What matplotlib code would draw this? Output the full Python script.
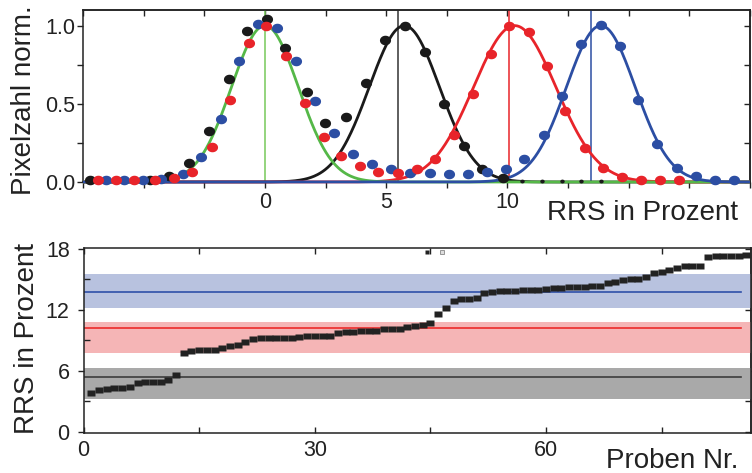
import numpy as np
import matplotlib
matplotlib.use("Agg")
import matplotlib.pyplot as plt
from matplotlib.path import Path

plt.rcParams['font.family'] = ['Liberation Sans', 'DejaVu Sans']

# ---------------- upper panel: normalised pixel counts ----------------
black_x = [-7.2, -4.72, -3.94, -3.12, -2.30, -1.49, -0.74, 0.08, 0.83, 1.72,
           2.47, 3.35, 4.17, 4.96, 5.78, 6.60, 7.38, 8.19, 8.95, 9.82]
black_y = [0.015, 0.015, 0.041, 0.124, 0.327, 0.658, 0.964, 1.043, 0.857, 0.573,
           0.376, 0.415, 0.632, 0.91, 1.0, 0.831, 0.5, 0.233, 0.084, 0.027]
black_tail_x = [10.6, 11.42, 12.24, 13.03, 13.84]
black_tail_y = [0.008, 0.008, 0.008, 0.008, 0.008]

red_x = [-6.9, -6.13, -5.38, -4.55, -3.76, -2.99, -2.20, -1.45, -0.67, 0.05,
         0.87, 1.65, 2.43, 3.12, 3.94, 4.65, 5.50, 6.26, 7.02, 7.78,
         8.58, 9.33, 10.08, 10.89, 11.64, 12.39, 13.18, 13.95, 14.74, 15.5,
         16.28, 17.07]
red_y = [0.012, 0.012, 0.012, 0.012, 0.025, 0.066, 0.222, 0.526, 0.889, 1.0,
         0.803, 0.504, 0.29, 0.165, 0.104, 0.066, 0.058, 0.086, 0.145, 0.301,
         0.564, 0.82, 1.0, 0.957, 0.744, 0.451, 0.216, 0.088, 0.032, 0.013,
         0.01, 0.01]

blue_x = [-6.54, -5.79, -5.04, -4.29, -3.39, -2.62, -1.83, -1.08, -0.29, 0.49,
          1.27, 2.06, 2.84, 3.63, 4.40, 5.19, 6.00, 6.80, 7.59, 8.36,
          9.15, 9.93, 10.69, 11.51, 12.26, 13.05, 13.84, 14.64, 15.39, 16.18,
          16.97, 17.76, 18.56, 19.36]
blue_y = [0.015, 0.015, 0.015, 0.02, 0.051, 0.162, 0.402, 0.771, 1.01, 0.985,
          0.776, 0.519, 0.316, 0.179, 0.117, 0.081, 0.058, 0.057, 0.053, 0.053,
          0.066, 0.086, 0.145, 0.301, 0.547, 0.885, 1.006, 0.867, 0.526, 0.244,
          0.088, 0.036, 0.015, 0.015]

# Gaussian fits (drawing order: black, red, green, blue)
fit_centers = [5.75, 10.3, 0.0, 13.85]
fit_sigmas = [1.45, 1.70, 1.38, 1.42]
fit_colors = ['#1a1a1a', '#e8242a', '#55b848', '#2c4ea3']

# vertical markers at the mean RRS of each group
mean_lines = [0.0, 5.48, 10.07, 13.46]
mean_line_colors = ['#77c95a', '#333333', '#e8242a', '#2c4ea3']

top_xticks = [-7.5, -5, -2.5, 0, 2.5, 5, 7.5, 10, 12.5, 15, 17.5, 20]
top_xticklabels = ['', '', '', '0', '', '5', '', '10', '', '', '', '']
top_yticks = [0, 0.25, 0.5, 0.75, 1.0]
top_yticklabels = ['0.0', '', '0.5', '', '1.0']

# ---------------- lower panel: RRS per sample, sorted ----------------
rrs_sorted = [
    3.84, 4.11, 4.21, 4.34, 4.34, 4.37, 4.83, 4.86, 4.86, 4.90, 5.09, 5.55,
    7.79, 7.92, 8.02, 8.02, 8.05, 8.28, 8.44, 8.54, 8.80,
    9.13, 9.22, 9.22, 9.22, 9.24, 9.26, 9.30, 9.38, 9.40, 9.45, 9.45,
    9.74, 9.82, 9.84, 9.88, 9.90, 9.97,
    10.15, 10.15, 10.15, 10.31, 10.41, 10.54, 10.68,
    11.63, 12.15, 12.85, 13.10, 13.10, 13.14,
    13.63, 13.73, 13.83, 13.83, 13.83, 13.93, 13.93, 13.93, 14.03, 14.13, 14.13,
    14.22, 14.22, 14.22, 14.35, 14.35, 14.68, 14.78, 14.91, 15.01, 15.08, 15.24,
    15.63, 15.76, 15.93, 16.13, 16.33, 16.33, 16.33,
    17.18, 17.31, 17.31, 17.31, 17.31, 17.41]
probe_nr = np.arange(1, len(rrs_sorted) + 1)

stray_x = [44.5]
stray_y = [17.73]
stray_open_x = [46.5]
stray_open_y = [17.73]

group_means = [5.42, 10.19, 13.73]
band_low = [3.25, 7.78, 12.22]
band_high = [6.31, 10.84, 15.54]
band_colors = ['#a9a9a9', '#f5b5b6', '#b8c2df']
mean_colors = ['#3c3c3c', '#ec2a2a', '#2e4fa8']
line_end = 85.3

bottom_xticks = [0, 15, 30, 45, 60, 75]
bottom_xticklabels = ['0', '', '30', '', '60', '']
bottom_yticks = [0, 6, 12, 18]
bottom_yminor = [3, 9, 15]

# ---------------- figure ----------------
W, H = 752, 473
fig = plt.figure(figsize=(W / 100, H / 100), dpi=100)
ink = '#222222'
tick_fs = 15.5
label_fs = 20

ax1 = fig.add_axes([83 / W, 1 - 182 / H, (750 - 83) / W, (182 - 10) / H])
ax2 = fig.add_axes([83.6 / W, 1 - 432.7 / H, (751 - 83.6) / W, (432.7 - 248) / H])

# elliptical dot marker and flat square marker
t = np.linspace(0, 2 * np.pi, 48)
dot = Path(np.column_stack([np.cos(t), 0.86 * np.sin(t)]))
rect = Path([(-1, -0.7), (1, -0.7), (1, 0.7), (-1, 0.7), (-1, -0.7)])

# upper panel
xs = np.linspace(-7.5, 20, 800)
for x0, c in zip(mean_lines, mean_line_colors):
    ax1.axvline(x0, color=c, lw=1.1, zorder=1)
for mu, s, c in zip(fit_centers, fit_sigmas, fit_colors):
    ax1.plot(xs, np.exp(-(xs - mu) ** 2 / (2 * s ** 2)), color=c, lw=2.0,
             zorder=3, clip_on=False, solid_capstyle='butt')
ms = 8.0
ax1.plot(black_x, black_y, ls='none', marker=dot, ms=ms, color='#1a1a1a', mec='none', zorder=4, clip_on=False)
ax1.plot(black_tail_x, black_tail_y, ls='none', marker=dot, ms=3.2, color='#1a1a1a', mec='none', zorder=4, clip_on=False)
ax1.plot(blue_x, blue_y, ls='none', marker=dot, ms=ms, color='#2c4ea3', mec='none', zorder=5, clip_on=False)
ax1.plot(red_x, red_y, ls='none', marker=dot, ms=ms, color='#e8242a', mec='none', zorder=6, clip_on=False)

ax1.set_xlim(-7.5, 20)
ax1.set_ylim(0, 1.1)
ax1.set_xticks(top_xticks)
ax1.set_xticklabels(top_xticklabels)
ax1.set_yticks(top_yticks)
ax1.set_yticklabels(top_yticklabels)
ax1.tick_params(axis='x', direction='out', length=4, width=1, top=False, pad=3,
                labelsize=tick_fs, colors=ink)
ax1.tick_params(axis='y', direction='out', length=4, width=1, right=False, pad=1.5,
                labelsize=tick_fs, colors=ink)
sx = ax1.secondary_xaxis('top')
sx.set_xticks(top_xticks)
sx.tick_params(direction='in', length=4, width=1, labeltop=False, colors=ink)
sy = ax1.secondary_yaxis('right')
sy.set_yticks(top_yticks)
sy.tick_params(direction='in', length=4, width=1, labelright=False, colors=ink)

# lower panel
for lo, hi, c in zip(band_low, band_high, band_colors):
    ax2.axhspan(lo, hi, color=c, lw=0, zorder=1)
for m, c in zip(group_means, mean_colors):
    ax2.plot([0, line_end], [m, m], color=c, lw=1.2, zorder=2)
ax2.plot(probe_nr, rrs_sorted, ls='none', marker=rect, ms=5.8, color='#222222',
         mec='none', zorder=4)
ax2.plot(stray_x, stray_y, ls='none', marker=rect, ms=3.4, color='#222222', mec='none', zorder=4)
ax2.plot(stray_open_x, stray_open_y, ls='none', marker='s', ms=2.6, mfc='#dddddd',
         mec='#888888', mew=0.6, zorder=4)

ax2.set_xlim(0, 86.6)
ax2.set_ylim(-0.1, 18.1)
ax2.set_xticks(bottom_xticks)
ax2.set_xticklabels(bottom_xticklabels)
ax2.set_yticks(bottom_yticks)
ax2.set_yticks(bottom_yminor, minor=True)
ax2.tick_params(axis='x', direction='in', length=4, width=1, top=True, pad=5,
                labelsize=tick_fs, colors=ink)
ax2.tick_params(axis='y', which='major', direction='out', length=4, width=1,
                right=False, pad=6, labelsize=tick_fs, colors=ink)
ax2.tick_params(axis='y', which='minor', direction='in', length=4, width=1,
                right=False, colors=ink)
sy2 = ax2.secondary_yaxis('right')
sy2.set_yticks(bottom_yticks + bottom_yminor)
sy2.tick_params(direction='in', length=4, width=1, labelright=False, colors=ink)

for a in (ax1, ax2, sx, sy, sy2):
    for sp in a.spines.values():
        sp.set_color(ink)
        sp.set_linewidth(1.1)

# axis titles
fig.text(738 / W, 1 - 219.5 / H, 'RRS in Prozent', ha='right', va='baseline',
         fontsize=label_fs, color=ink)
fig.text(738 / W, 1 - 468 / H, 'Proben Nr.', ha='right', va='baseline',
         fontsize=label_fs, color=ink)
fig.text(31 / W, 1 - 100 / H, 'Pixelzahl norm.', rotation=90, rotation_mode='anchor',
         ha='center', va='baseline', fontsize=label_fs, color=ink)
fig.text(34 / W, 1 - 338 / H, 'RRS in Prozent', rotation=90, rotation_mode='anchor',
         ha='center', va='baseline', fontsize=label_fs, color=ink)

fig.savefig('out.png', dpi=100)
